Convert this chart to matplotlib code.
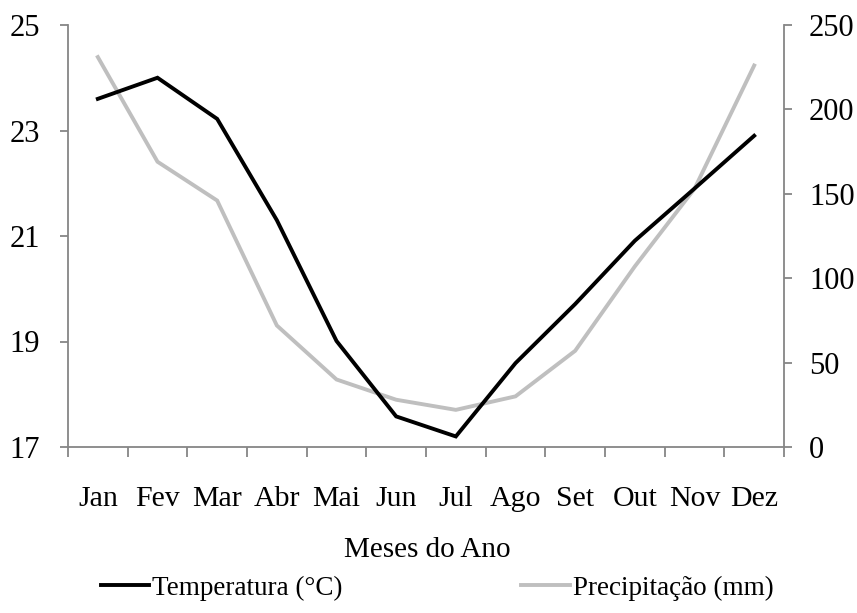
import matplotlib
matplotlib.use("Agg")
import matplotlib.pyplot as plt
from matplotlib.lines import Line2D

months = ["Jan", "Fev", "Mar", "Abr", "Mai", "Jun", "Jul", "Ago", "Set", "Out", "Nov", "Dez"]
temperatura = [23.6, 24.0, 23.22, 21.3, 19.01, 17.58, 17.2, 18.59, 19.71, 20.91, 21.9, 22.9]
precipitacao = [231, 169, 146, 72, 40, 28, 22, 30, 57, 107, 153, 226]
left_ticks = [17, 19, 21, 23, 25]
right_ticks = [0, 50, 100, 150, 200, 250]

plt.rcParams['font.family'] = ['Liberation Serif', 'DejaVu Serif']
FS_TICK = 22
FS_X = 21.5
FS_LABEL = 21
FS_LEG = 19.5
AX_COLOR = "#868686"

W, H = 857, 613
fig = plt.figure(figsize=(W / 100, H / 100), dpi=100)
x0, x1, y0, y1 = 68, 784, 25, 447
ax = fig.add_axes([x0 / W, (H - y1) / H, (x1 - x0) / W, (y1 - y0) / H])
ax2 = ax.twinx()

x = list(range(len(months)))
l1, = ax.plot(x, temperatura, color="black", lw=2.8, solid_joinstyle="miter", zorder=3)
l2, = ax2.plot(x, precipitacao, color="#BFBFBF", lw=2.8, solid_joinstyle="miter", zorder=2)
ax.set_zorder(ax2.get_zorder() + 1)
ax.patch.set_visible(False)

ax.set_xlim(-0.5, len(months) - 0.5)
ax.set_ylim(17, 25)
ax2.set_ylim(0, 250)
ax.set_yticks(left_ticks)
ax2.set_yticks(right_ticks)

ax.set_xticks(x)
ax.set_xticklabels(months, fontsize=FS_X)
ax.set_xticks([i - 0.5 for i in range(len(months) + 1)], minor=True)
ax.tick_params(axis='x', which='major', length=0, pad=28)
ax.tick_params(axis='x', which='minor', length=7, width=1.3, color=AX_COLOR, direction='out')
ax.tick_params(axis='y', length=6, width=1.3, color=AX_COLOR, labelsize=FS_TICK, pad=14)
ax2.tick_params(axis='y', length=6, width=1.3, color=AX_COLOR, labelsize=FS_TICK, pad=12)

for a in (ax, ax2):
    a.spines["top"].set_visible(False)
    for s in ("left", "right", "bottom"):
        a.spines[s].set_color(AX_COLOR)
        a.spines[s].set_linewidth(1.3)
ax.spines["right"].set_visible(False)
ax2.spines["left"].set_visible(False)
ax2.spines["bottom"].set_visible(False)

fig.text(427 / W, 1 - 550 / H, "Meses do Ano", fontsize=FS_LABEL, ha="center", va="center")

handles = [Line2D([], [], color="black", lw=2.8), Line2D([], [], color="#BFBFBF", lw=2.8)]
fig.legend(handles, ["Temperatura (°C)", "Precipitação (mm)"], loc="center",
           bbox_to_anchor=(437 / W, 1 - 588 / H), ncol=2, frameon=False, fontsize=FS_LEG,
           handlelength=1.8, handletextpad=0.1, columnspacing=6.6, borderpad=0, borderaxespad=0)

fig.savefig("out.png", dpi=100)
